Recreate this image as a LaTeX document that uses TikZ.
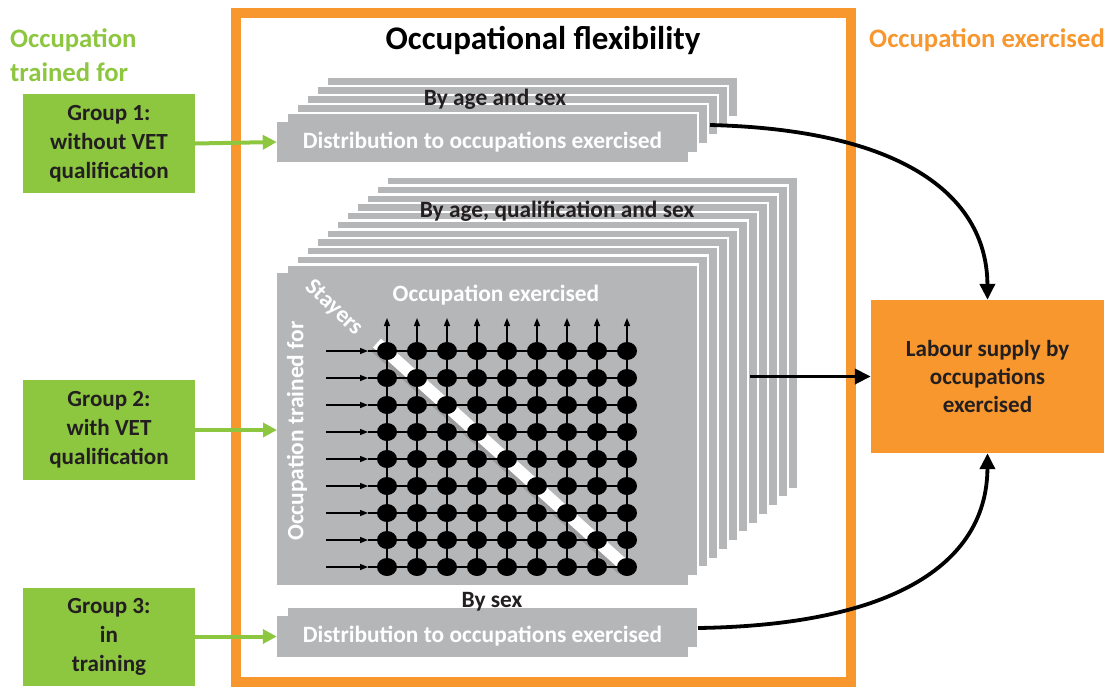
\documentclass[tikz,border=0pt]{standalone}
\usepackage{fontspec}
\setmainfont{Carlito}
\usetikzlibrary{arrows.meta}
\definecolor{vgreen}{HTML}{8DC63F}
\definecolor{vorange}{HTML}{F7972E}
\definecolor{vgray}{HTML}{B5B6B8}
\definecolor{vshadow}{HTML}{9C9C9E}
\definecolor{vtext}{HTML}{231F20}
\tikzset{
  layer/.style={fill=vgray, draw=white, line width=2.6pt},
  frontbox/.style={fill=vgray, inner sep=0pt, text=white, font=\fontsize{23.4}{26}\selectfont\bfseries},
  groupbox/.style={fill=vgreen, inner sep=0pt, minimum width=172pt, text=vtext, align=center, font=\fontsize{23.1}{29}\selectfont\bfseries},
  labbox/.style={fill=vorange, inner sep=0pt, minimum width=233pt, minimum height=153pt, text=vtext, align=center, font=\fontsize{23.1}{28}\selectfont\bfseries},
  stacklabel/.style={text=vtext, inner sep=0pt, font=\fontsize{23.4}{26}\selectfont\bfseries},
  whitelabel/.style={text=white, inner sep=0pt, font=\fontsize{23.4}{26}\selectfont\bfseries},
  heading/.style={inner sep=0pt, anchor=west, font=\fontsize{26.7}{32}\selectfont\bfseries},
  garrow/.style={draw=vgreen, line width=4pt, -{Triangle[length=14pt,width=14pt]}},
  barrow/.style={draw=black, line width=3.8pt, -{Triangle[length=16pt,width=15pt]}},
  gridline/.style={draw=black, line width=1.4pt},
  gridarrow/.style={draw=black, line width=1.4pt, -{Triangle[length=8pt,width=6pt]}},
}
\begin{document}
\begin{tikzpicture}[x=1pt,y=-1pt]
\useasboundingbox (0,0) rectangle (1110,686);
% orange frame
\draw[vorange, line width=10pt] (235.5,12.5) rectangle (850.5,682);
% headings
\node[heading, text=vgreen] (h1) at (10,40) {Occupation};
\node[heading, text=vgreen] (h2) at (10,72) {trained for};
\node[heading, text=vorange] (h3) at (869,40) {Occupation exercised};
\node[inner sep=0pt, text=black, font=\fontsize{33}{36}\selectfont\bfseries] (title) at (543,40) {Occupational flexibility};

% stack 1
\foreach \k in {5,...,1} {
  \fill[layer] (277+10*\k,122-9*\k) rectangle (688+10*\k,162-9*\k);
}
\node[frontbox, minimum width=411pt, minimum height=40pt] (d1) at (482.5,142) {Distribution to occupations exercised};
\node[stacklabel] (l1) at (495,99) {By age and sex};

% stack 2
\foreach \k in {11,...,1} {
  \fill[layer] (277+10*\k,273-8.73*\k) rectangle (688+10*\k,585-8.73*\k);
}
\node[fill=vgray, inner sep=0pt, minimum width=411pt, minimum height=312pt] (m) at (482.5,429) {};
\node[stacklabel] (l2) at (557,211) {By age, qualification and sex};
\node[whitelabel] (oe) at (496,295) {Occupation exercised};
\node[whitelabel, rotate=90] (ot) at (297,431) {Occupation trained for};
% stayers stripe
\draw[vshadow, line width=13pt] (375,346) -- (623,569);
\draw[white, line width=12pt] (377,343) -- (625,566);
\node[whitelabel, rotate=-43] (st) at (334,308) {Stayers};
% grid
\foreach \r in {0,...,8} {
  \draw[gridarrow] (326,351+27*\r) -- (368,351+27*\r);
  \draw[gridline] (368,351+27*\r) -- (627,351+27*\r);
}
\foreach \c in {0,...,8} {
  \draw[gridarrow] (387+30*\c,567) -- (387+30*\c,318);
}
\foreach \r in {0,...,8} {
  \foreach \c in {0,...,8} {
    \fill[black] (387+30*\c,351+27*\r) ellipse (10pt and 9pt);
  }
}

% stack 3
\fill[layer] (287,607) rectangle (698,648);
\node[frontbox, minimum width=411pt, minimum height=41pt] (d3) at (482.5,636.5) {Distribution to occupations exercised};
\node[stacklabel] (l3) at (492,602) {By sex};

% groups
\node[groupbox, minimum height=99pt] (g1) at (109,143.5) {Group 1:\\without VET\\qualification};
\node[groupbox, minimum height=100pt] (g2) at (109,430) {Group 2:\\with VET\\qualification};
\node[groupbox, minimum height=98pt] (g3) at (109,637) {Group 3:\\in\\training};

% labour supply
\node[labbox] (lab) at (987.5,376.5) {Labour supply by\\occupations\\exercised};

% green arrows
\coordinate (m1) at (277,430);
\draw[garrow] (g1.east) -- (d1.west);
\draw[garrow] (g2.east |- m1) -- (m1);
\draw[garrow] (g3.east |- d3.west) -- (d3.west);

% black arrows
\coordinate (s1) at (710,125);
\coordinate (s2) at (750,376.5);
\coordinate (s3) at (698,628);
\draw[barrow] (s1) .. controls (910,130) and (987,200) .. (lab.north);
\draw[barrow] (s2) -- (lab.west);
\draw[barrow] (s3) .. controls (900,625) and (987,560) .. (lab.south);
\end{tikzpicture}
\end{document}
